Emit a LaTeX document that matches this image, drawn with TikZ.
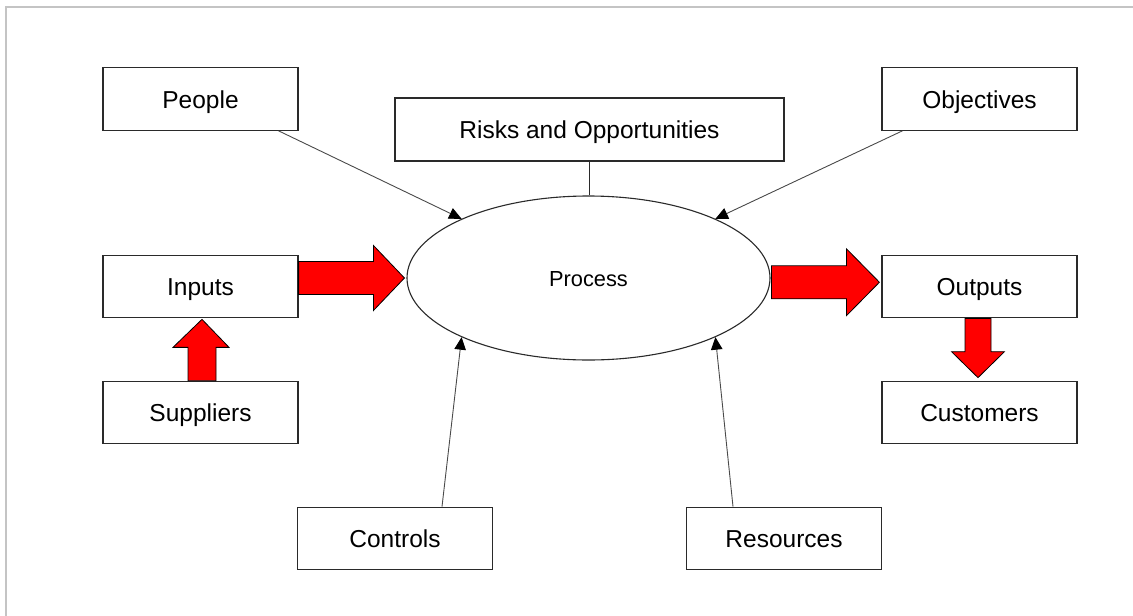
\documentclass[tikz,border=0pt]{standalone}
\usepackage{fontspec}
\setmainfont{Liberation Sans}
\usetikzlibrary{shapes.geometric,arrows.meta,calc}
\definecolor{boxline}{HTML}{2A2A2A}
\definecolor{thinline}{HTML}{4A4A4A}
\definecolor{frameline}{HTML}{C4C4C4}
\definecolor{arrowred}{HTML}{FF0000}
\begin{document}
\begin{tikzpicture}[x=1pt,y=-1pt,
  box/.style={draw=boxline, line width=1.2pt, rectangle, minimum width=195pt, minimum height=62.5pt, inner sep=0pt, text height=18.6pt, text depth=0pt, font=\fontsize{24.5}{28}\selectfont},
  proc/.style={draw=boxline, line width=1.1pt, ellipse, minimum width=363pt, minimum height=164pt, inner sep=0pt, text height=17.4pt, text depth=0pt, font=\fontsize{21.8}{25}\selectfont},
  feed/.style={draw=thinline, line width=0.9pt, -{Triangle[length=12.5pt,width=11.5pt,color=black]}},
  plain/.style={draw=boxline, line width=1.1pt},
  redarrow/.style={fill=arrowred, draw=black, line width=0.8pt, line join=miter}]
\useasboundingbox (0,0) rectangle (1133,616);
\fill[white] (0,0) rectangle (1133,616);
\draw[frameline, line width=1.5pt] (6,616) -- (6,7) -- (1133,7);

\node[box] (people) at (200.5,99) {People};
\node[box, minimum width=389pt, minimum height=63pt] (risks) at (589.5,129.5) {Risks and Opportunities};
\node[box] (objectives) at (979.5,99) {Objectives};
\node[box] (inputs) at (200.5,286.5) {Inputs};
\node[box] (outputs) at (979.5,286.5) {Outputs};
\node[box] (suppliers) at (200.5,412.5) {Suppliers};
\node[box] (customers) at (979.5,412.5) {Customers};
\node[box] (controls) at (395,538.5) {Controls};
\node[box] (resources) at (784,538.5) {Resources};
\node[proc] (process) at (588.5,278) {Process};

% thin connectors
\draw[plain] (risks.south) -- (risks.south |- process.north);
\draw[feed] ([xshift=-20pt]people.south east) -- (process.155);
\draw[feed] ([xshift=21pt]objectives.south west) -- (process.25);
\draw[feed] ([xshift=47pt]controls.north) -- (process.205);
\draw[feed] ([xshift=-51pt]resources.north) -- (process.335.5);

% block arrows
\draw[redarrow] let \p1=(inputs.east), \p2=(process.west) in
  (\x1,\y2-16.5pt) -- (\x2-33pt,\y2-16.5pt) -- (\x2-33pt,\y2-32.5pt) -- (\x2-2pt,\y2)
  -- (\x2-33pt,\y2+32.5pt) -- (\x2-33pt,\y2+16.5pt) -- (\x1,\y2+16.5pt) -- cycle;
\draw[redarrow] let \p1=(process.east), \p2=(outputs.west), \n1={(\y1+\y2)/2} in
  (\x1+1pt,\n1-16.5pt) -- (\x2-35pt,\n1-16.5pt) -- (\x2-35pt,\n1-33.5pt) -- (\x2-2pt,\n1)
  -- (\x2-35pt,\n1+33.5pt) -- (\x2-35pt,\n1+16.5pt) -- (\x1+1pt,\n1+16.5pt) -- cycle;
\draw[redarrow] let \p1=(outputs.south), \p2=(customers.north) in
  (\x1-14.5pt,\y1) -- (\x1-14.5pt,\y2+29pt) -- (\x1-28pt,\y2+29pt) -- (\x1-1.5pt,\y2+3pt)
  -- (\x1+25pt,\y2+29pt) -- (\x1+11.5pt,\y2+29pt) -- (\x1+11.5pt,\y1) -- cycle;
\draw[redarrow] let \p1=(suppliers.north), \p2=(inputs.south) in
  (\x1-12.5pt,\y1) -- (\x1-12.5pt,\y2-29pt) -- (\x1-27.5pt,\y2-29pt) -- (\x1+1.5pt,\y2-1pt)
  -- (\x1+28.5pt,\y2-29pt) -- (\x1+15.5pt,\y2-29pt) -- (\x1+15.5pt,\y1) -- cycle;
\end{tikzpicture}
\end{document}
